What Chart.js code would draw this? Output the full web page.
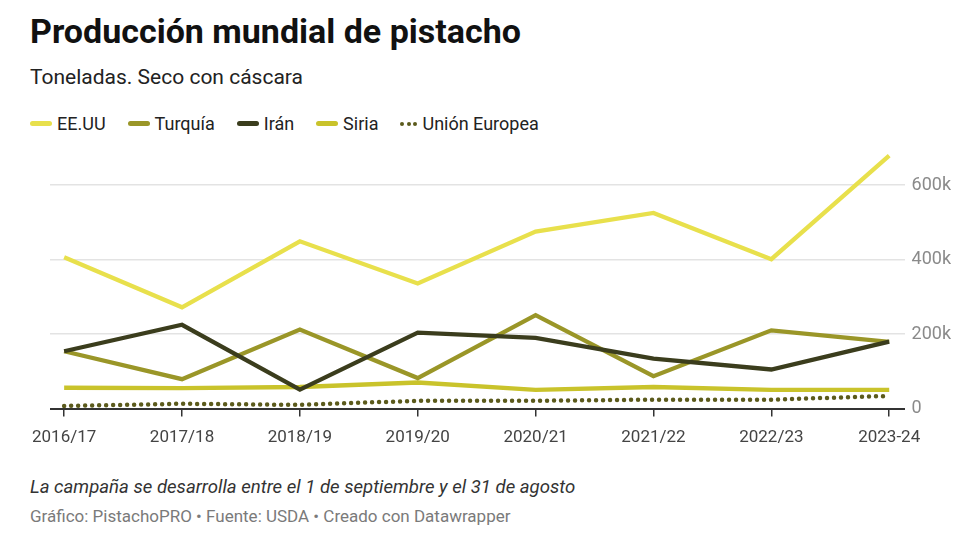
<!DOCTYPE html>
<html><head><meta charset="utf-8">
<script src="https://cdn.jsdelivr.net/npm/chart.js@4.4.1/dist/chart.umd.min.js"></script>
<style>
html,body{margin:0;padding:0;background:#fff;width:980px;height:560px;overflow:hidden;font-family:Roboto,"Noto Sans",sans-serif;}
#title{position:absolute;left:30px;top:11px;font-size:34px;font-weight:700;color:#111;letter-spacing:0;}
#sub{position:absolute;left:30px;top:65px;font-size:21px;color:#222;}
#legend{position:absolute;left:30px;top:113px;font-size:18px;color:#222;display:flex;align-items:center;}
.li{display:flex;align-items:center;margin-right:22px;}
.sw{display:inline-block;width:22px;height:5px;border-radius:3px;margin-right:5px;}
.dots{display:inline-flex;width:17px;justify-content:space-between;margin-right:5px;}
.dots i{display:inline-block;width:4px;height:4px;border-radius:2px;}
#wrap{position:absolute;left:0;top:130px;width:980px;height:330px;}
#note{position:absolute;left:30px;top:476px;font-size:18.6px;font-style:italic;color:#333;}
#foot{position:absolute;left:30px;top:506px;font-size:17px;color:#7a7a7a;}
</style></head>
<body>
<div id="title">Producción mundial de pistacho</div>
<div id="sub">Toneladas. Seco con cáscara</div>
<div id="legend"></div>
<div id="wrap"><canvas id="c" width="980" height="330"></canvas></div>
<div id="note">La campaña se desarrolla entre el 1 de septiembre y el 31 de agosto</div>
<div id="foot">Gráfico: PistachoPRO • Fuente: USDA • Creado con Datawrapper</div>
<script>
const categories = ["2016/17","2017/18","2018/19","2019/20","2020/21","2021/22","2022/23","2023-24"];
const eeuu    = [406000, 272000, 449000, 336000, 475000, 525000, 401000, 679000];
const turquia = [154000,  79000, 212000,  82000, 251000,  87000, 210000, 179000];
const iran    = [154000, 225000,  51000, 204000, 190000, 134000, 105000, 180000];
const siria   = [ 56000,  55000,  58000,  70000,  50000,  58000,  50000,  50000];
const ue      = [  7000,  13000,  10000,  21000,  21000,  24000,  24000,  34000];
const yTicks  = [0, 200000, 400000, 600000];

const series = [
  {name:"EE.UU", data:eeuu, color:"#e8e04c", dotted:false},
  {name:"Turquía", data:turquia, color:"#9a9628", dotted:false},
  {name:"Irán", data:iran, color:"#3b3d1d", dotted:false},
  {name:"Siria", data:siria, color:"#c9c32b", dotted:false},
  {name:"Unión Europea", data:ue, color:"#5b5a1c", dotted:true}
];

const lg = document.getElementById('legend');
series.forEach(s=>{
  const d=document.createElement('div'); d.className='li';
  if(s.dotted){
    const m=document.createElement('span'); m.className='dots';
    for(let k=0;k<3;k++){const i=document.createElement('i'); i.style.background=s.color; m.appendChild(i);}
    d.appendChild(m);
  } else {
    const m=document.createElement('span'); m.className='sw'; m.style.background=s.color; d.appendChild(m);
  }
  const t=document.createElement('span'); t.textContent=s.name; d.appendChild(t);
  lg.appendChild(d);
});

const drawOrder = {"EE.UU":4,"Turquía":2,"Irán":1,"Siria":3,"Unión Europea":5};
const datasets = series.map(s=>({
  label:s.name,
  data:s.data.map((v,i)=>({x:i,y:v})),
  borderColor:s.color,
  backgroundColor:s.color,
  borderWidth: s.dotted ? 4.5 : 4.3,
  borderDash: s.dotted ? [0,7] : [],
  borderCapStyle: s.dotted ? 'round' : 'butt',
  borderJoinStyle:'miter',
  pointRadius:0,
  tension:0,
  fill:false,
  order: drawOrder[s.name]
}));

new Chart(document.getElementById('c'), {
  type:'line',
  data:{datasets},
  options:{
    responsive:false,
    animation:false,
    layout:{padding:{left:50,right:22,top:16,bottom:1}},
    plugins:{legend:{display:false},tooltip:{enabled:false}},
    scales:{
      x:{
        type:'linear', min:-0.12, max:7.13,
        afterBuildTicks:(scale)=>{scale.ticks=categories.map((c,i)=>({value:i}));},
        ticks:{callback:(v)=>categories[v], font:{family:'Roboto',size:17}, color:'#444', padding:11, maxRotation:0, autoSkip:false},
        grid:{drawOnChartArea:false, drawTicks:true, tickLength:8, color:'#333', lineWidth:1.5},
        border:{display:false}
      },
      y:{
        position:'right', min:0, max:700000,
        afterBuildTicks:(scale)=>{scale.ticks=yTicks.map(v=>({value:v}));},
        ticks:{callback:(v)=> v===0 ? '0' : (v/1000)+'k', font:{family:'Roboto',size:18}, color:'#8a8a8a', padding:7},
        grid:{drawTicks:false, color:(ctx)=> ctx.tick && ctx.tick.value===0 ? '#333' : '#e3e3e3', lineWidth:(ctx)=> ctx.tick && ctx.tick.value===0 ? 2 : 1.5},
        border:{display:false}
      }
    }
  }
});
</script>
</body></html>
